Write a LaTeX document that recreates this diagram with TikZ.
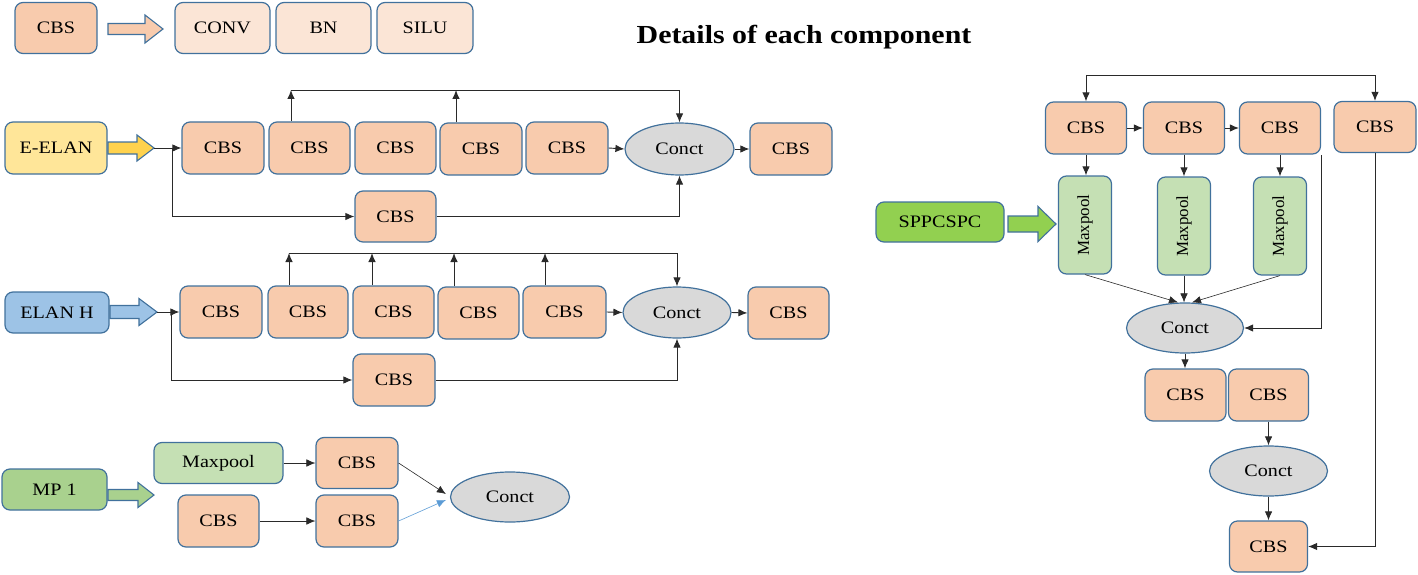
\documentclass[tikz,border=0pt]{standalone}
\usepackage{graphicx}
\usepackage{fontspec}
\setmainfont{Liberation Serif}[FakeStretch=1.15]
\newfontfamily\rotfont{Liberation Serif}
\usetikzlibrary{arrows.meta,shapes.geometric}
\definecolor{bord}{HTML}{41719C}
\definecolor{cbsfill}{HTML}{F8CBAD}
\definecolor{lightfill}{HTML}{FBE5D6}
\definecolor{yel}{HTML}{FFE699}
\definecolor{yelarrow}{HTML}{FFD24D}
\definecolor{blu}{HTML}{9DC3E6}
\definecolor{grn}{HTML}{A9D18E}
\definecolor{mpfill}{HTML}{C5E0B4}
\definecolor{sppfill}{HTML}{92D050}
\definecolor{confill}{HTML}{D9D9D9}
\definecolor{linecol}{HTML}{2A2A2A}
\definecolor{bluearrow}{HTML}{5B9BD5}
\newcommand\blkarrow[7]{%
  \filldraw[fill=#7, draw=bord, line width=1.1pt, line join=miter]
    (#1,#3-#4) -- (#2-#6,#3-#4) -- (#2-#6,#3-#5) -- (#2,#3) --
    (#2-#6,#3+#5) -- (#2-#6,#3+#4) -- (#1,#3+#4) -- cycle;}
\tikzset{
  box/.style={draw=bord, line width=1.2pt, rounded corners=8pt, inner sep=0pt,
    font=\fontsize{17.5}{20}\selectfont, text=black},
  cbsbox/.style={box, fill=cbsfill, minimum width=81pt, minimum height=52pt},
  conbox/.style={ellipse, draw=bord, line width=1.2pt, fill=confill, inner sep=0pt,
    font=\fontsize{17.5}{20}\selectfont, text=black, minimum width=109pt, minimum height=52pt},
  mpbox/.style={box, fill=mpfill},
  conn/.style={draw=linecol, line width=0.9pt, -{Latex[length=9pt,width=7.5pt]}},
  thinconn/.style={draw=linecol, line width=0.6pt, -{Latex[length=9pt,width=7.5pt]}},
  plain/.style={draw=linecol, line width=0.9pt},
}
\begin{document}
\begin{tikzpicture}[x=1pt,y=-1pt]
\useasboundingbox (0,0) rectangle (1418,575);

% ---------- legend ----------
\node[cbsbox, minimum width=82pt, minimum height=51pt] (lcbs) at (56,28) {CBS};
\blkarrow{108}{163}{29}{5.5}{14}{18}{cbsfill}
\node[box, fill=lightfill, minimum width=95pt, minimum height=51pt] (lconv) at (222.5,28) {CONV};
\node[box, fill=lightfill, minimum width=95pt, minimum height=51pt] (lbn) at (323.5,28) {BN};
\node[box, fill=lightfill, minimum width=96pt, minimum height=51pt] (lsilu) at (425,28) {SILU};
\node[font=\bfseries\fontsize{26}{30}\selectfont, inner sep=0pt] (title) at (804,37) {Details of each component};

% ---------- E-ELAN ----------
\node[box, fill=yel, minimum width=102pt, minimum height=52pt] (eelan) at (56,148) {E-ELAN};
\blkarrow{108}{154}{148}{6}{13}{17}{yelarrow}
\coordinate (ea) at (154,148);
\coordinate (eb) at (172,148);
\node[cbsbox, minimum width=82pt] (e1) at (223,148) {CBS};
\node[cbsbox] (e2) at (309.5,148) {CBS};
\node[cbsbox] (e3) at (395.5,148) {CBS};
\node[cbsbox, minimum width=82pt] (e4) at (481,149) {CBS};
\node[cbsbox, minimum width=82pt] (e5) at (567,148) {CBS};
\node[conbox] (econ) at (679.5,149) {Conct};
\node[cbsbox, minimum width=82pt] (eout) at (791,149) {CBS};
\node[cbsbox, minimum height=51pt] (elow) at (395.5,216.5) {CBS};
\draw[conn] (ea) -- (e1.west);
\draw[conn] (eb) |- (elow.west);
\draw[conn] (elow.east) -| (econ.south);
\draw[conn] (e5.east) -- (econ.west);
\draw[conn] (econ.east) -- (eout.west);
\coordinate (eu2) at (291,90);
\coordinate (eu4) at (456,90);
\draw[conn] (eu2 |- e2.north) -- (eu2);
\draw[conn] (eu4 |- e4.north) -- (eu4);
\draw[conn] (eu2) -| (econ.north);

% ---------- ELAN H ----------
\node[box, fill=blu, minimum width=104pt, minimum height=41pt] (elanh) at (57,312.5) {ELAN H};
\blkarrow{110}{157}{312}{6.5}{13.5}{18}{blu}
\coordinate (ha) at (157,312);
\coordinate (hb) at (171,312);
\node[cbsbox, minimum width=82pt] (h1) at (221,312) {CBS};
\node[cbsbox, minimum width=80pt] (h2) at (308,312) {CBS};
\node[cbsbox] (h3) at (393.5,312) {CBS};
\node[cbsbox] (h4) at (478.5,313) {CBS};
\node[cbsbox, minimum width=83pt] (h5) at (564.5,312) {CBS};
\node[conbox, minimum width=108pt, minimum height=51pt] (hcon) at (677,312.5) {Conct};
\node[cbsbox] (hout) at (788.5,313) {CBS};
\node[cbsbox, minimum width=82pt] (hlow) at (394,380) {CBS};
\draw[conn] (ha) -- (h1.west);
\draw[conn] (hb) |- (hlow.west);
\draw[conn] (hlow.east) -| (hcon.south);
\draw[conn] (h5.east) -- (hcon.west);
\draw[conn] (hcon.east) -- (hout.west);
\coordinate (hu2) at (289,253);
\coordinate (hu3) at (372,253);
\coordinate (hu4) at (454,253);
\coordinate (hu5) at (545,253);
\draw[conn] (hu2 |- h2.north) -- (hu2);
\draw[conn] (hu3 |- h3.north) -- (hu3);
\draw[conn] (hu4 |- h4.north) -- (hu4);
\draw[conn] (hu5 |- h5.north) -- (hu5);
\draw[conn] (hu2) -| (hcon.north);

% ---------- MP 1 ----------
\node[box, fill=grn, minimum width=105pt, minimum height=41pt] (mp1) at (54.5,489.5) {MP 1};
\blkarrow{108}{154}{495}{5.5}{12.5}{16}{grn}
\node[mpbox, minimum width=129pt, minimum height=41pt] (mmax) at (218.5,463) {Maxpool};
\node[cbsbox, minimum width=82pt, minimum height=51pt] (mc1) at (357,463) {CBS};
\node[cbsbox] (mc2) at (218.5,521) {CBS};
\node[cbsbox, minimum width=82pt] (mc3) at (357,521) {CBS};
\node[conbox, minimum width=119pt, minimum height=50pt] (mcon) at (510,497) {Conct};
\draw[thinconn] (mmax.east) -- (mc1.west);
\draw[thinconn] (mc2.east) -- (mc3.west);
\draw[thinconn] (mc1.east) -- ([shift={(-4,-3)}]mcon.west);
\draw[draw=bluearrow, line width=0.6pt, -{Latex[length=9pt,width=7.5pt]}] (mc3.east) -- ([shift={(-4,3)}]mcon.west);

% ---------- SPPCSPC ----------
\node[box, fill=sppfill, minimum width=128pt, minimum height=40pt] (spp) at (940,222) {SPPCSPC};
\blkarrow{1008}{1056}{224}{8}{17.5}{18}{sppfill}
\node[cbsbox] (sA) at (1086,128) {CBS};
\node[cbsbox] (sB) at (1184,128) {CBS};
\node[cbsbox] (sC) at (1280,128) {CBS};
\node[cbsbox, minimum width=82pt, minimum height=51pt] (sD) at (1375,127) {CBS};
\coordinate (stop) at (1086,75);
\draw[conn] (stop) -- (stop |- sA.north);
\draw[conn] (stop) -| (sD.north);
\draw[conn] (sA.east) -- (sB.west);
\draw[conn] (sB.east) -- (sC.west);
\node[mpbox, minimum width=53pt, minimum height=98pt] (p1) at (1085,225) {\rotatebox{90}{\rotfont\fontsize{17}{19}\selectfont Maxpool}};
\node[mpbox, minimum width=53pt, minimum height=98pt] (p2) at (1184,226) {\rotatebox{90}{\rotfont\fontsize{17}{19}\selectfont Maxpool}};
\node[mpbox, minimum width=53pt, minimum height=98pt] (p3) at (1280,226) {\rotatebox{90}{\rotfont\fontsize{17}{19}\selectfont Maxpool}};
\draw[conn] (sA.south) -- (sA.south |- p1.north);
\draw[conn] (sB.south) -- (sB.south |- p2.north);
\draw[conn] (sC.south) -- (sC.south |- p3.north);
\node[conbox, minimum width=117pt, minimum height=50pt] (sc1) at (1185,328) {Conct};
\draw[thinconn] (p1.south) -- ([xshift=-7pt]sc1.north);
\draw[thinconn] (p2.south) -- (p2.south |- sc1.north);
\draw[thinconn] (p3.south) -- ([xshift=7pt]sc1.north);
\coordinate (sr) at (1321,155);
\draw[conn] (sr) |- (sc1.east);
\node[cbsbox] (sE) at (1185.5,395) {CBS};
\node[cbsbox, minimum width=80pt] (sF) at (1268.5,395) {CBS};
\draw[conn] (sc1.south) -- (sc1.south |- sE.north);
\node[conbox, minimum width=118pt, minimum height=50pt] (sc2) at (1268.5,471) {Conct};
\draw[conn] (sF.south) -- (sc2.north);
\node[cbsbox, minimum width=78pt, minimum height=51pt] (sG) at (1268.5,546.5) {CBS};
\draw[conn] (sc2.south) -- (sG.north);
\draw[conn] (sD.south) |- (sG.east);
\end{tikzpicture}
\end{document}
